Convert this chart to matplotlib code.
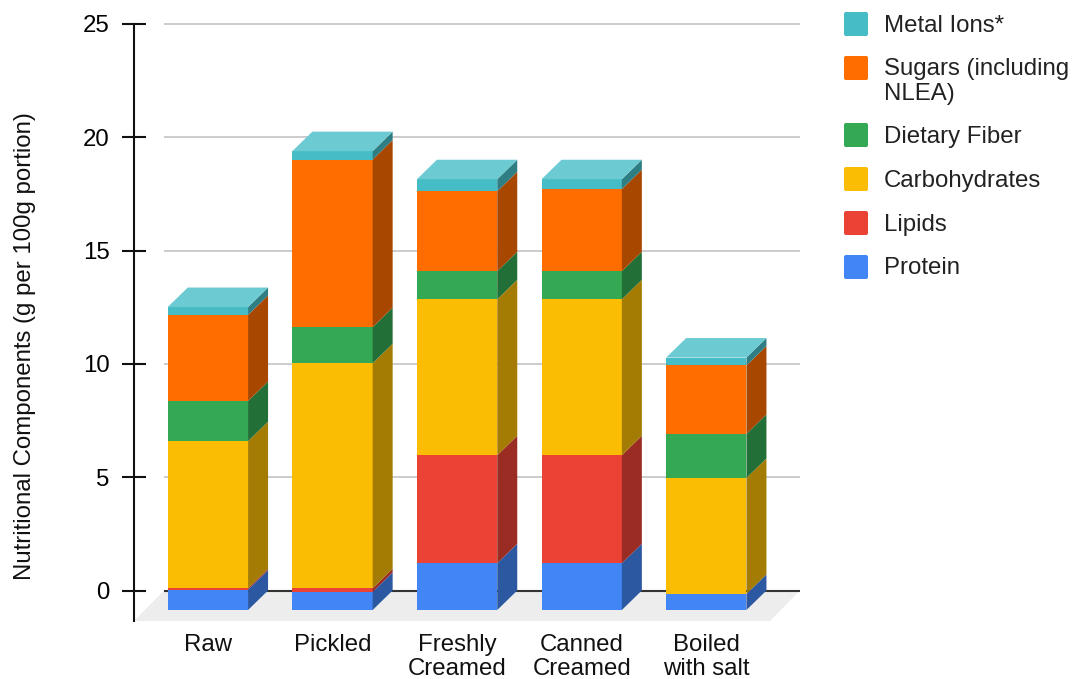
# Nutritional components chart, stacked bars with a fake 3D look
import numpy as np
import matplotlib
matplotlib.use('Agg')
import matplotlib.pyplot as plt
from matplotlib.patches import FancyBboxPatch

plt.rcParams['font.family'] = ['Liberation Sans', 'DejaVu Sans']

# ── Data ─────────────────────────────────────────────────────
categories = ['Raw', 'Pickled', 'Freshly\nCreamed', 'Canned\nCreamed', 'Boiled\nwith salt']
protein = [0.90, 0.80, 2.06, 2.06, 0.71]
lipids  = [0.06, 0.16, 4.77, 4.77, 0.00]
carbs   = [6.49, 9.93, 6.88, 6.88, 5.12]
fiber   = [1.77, 1.59, 1.24, 1.24, 1.94]
sugars  = [3.80, 7.40, 3.53, 3.62, 3.02]
metals  = [0.35, 0.37, 0.53, 0.44, 0.35]
y_ticks = [0, 5, 10, 15, 20, 25]

series = [protein, lipids, carbs, fiber, sugars, metals]
legend_labels = ['Metal Ions*', 'Sugars (including\nNLEA)', 'Dietary Fiber',
                 'Carbohydrates', 'Lipids', 'Protein']

# front colour, side colour, same order as series
front_cols = ['#4285F4', '#EA4335', '#FBBC04', '#34A853', '#FF6D01', '#46BDC6']
side_cols  = ['#2C58A1', '#9A2C23', '#A57C03', '#226F37', '#A84800', '#2F7E84']
top_col = '#6BCAD2'

# ── Layout in pixels ─────────────────────────────────────────
W, H = 1073, 679
AX_LEFT, AX_RIGHT, AX_TOP, AX_BOTTOM = 134, 800, 24, 621
ZERO_PX = 590.5
PX_PER_UNIT = (ZERO_PX - AX_TOP) / 25
PX_PER_CAT = 124.6
FIRST_CENTER = 207.9
FONT = 17.3

fig = plt.figure(figsize=(W / 100, H / 100), dpi=100)
ax = fig.add_axes([AX_LEFT / W, 1 - AX_BOTTOM / H,
                   (AX_RIGHT - AX_LEFT) / W, (AX_BOTTOM - AX_TOP) / H])
ax.set_xlim((AX_LEFT - FIRST_CENTER) / PX_PER_CAT, (AX_RIGHT - FIRST_CENTER) / PX_PER_CAT)
ax.set_ylim((ZERO_PX - AX_BOTTOM) / PX_PER_UNIT, 25)

# depth of the bars, converted to data units
dx = 20 / PX_PER_CAT
dy = 19.5 / PX_PER_UNIT
bar_w = 80.3 / PX_PER_CAT
x = np.arange(len(categories))

# ── Floor and gridlines ──────────────────────────────────────
floor_x = 30 / PX_PER_CAT
x0, x1 = ax.get_xlim()
y0 = ax.get_ylim()[0]
ax.fill([x0, x1 - floor_x, x1, x0 + floor_x], [y0, y0, 0, 0],
        color='#EDEDED', lw=0, zorder=1)
ax.hlines(y_ticks[1:], x0 + floor_x, x1, color='#CCCCCC', lw=1.4, zorder=1, clip_on=False)
ax.hlines(0, x0 + floor_x, x1, color='#333333', lw=1.5, zorder=2)

# ── Stacked bars: front face, then the side and top faces ────
bottom = np.zeros(len(categories))
for vals, col, side in zip(series, front_cols, side_cols):
    vals = np.array(vals)
    ax.bar(x, vals, bar_w, bottom=bottom - dy, color=col, lw=0, zorder=3)
    for xi, b, v in zip(x + bar_w / 2, bottom, vals):
        ax.fill([xi, xi + dx, xi + dx, xi],
                [b - dy, b, b + v, b + v - dy],
                color=side, lw=0, zorder=3)
    bottom = bottom + vals

for xi, t in zip(x, bottom):
    ax.fill([xi - bar_w / 2, xi + bar_w / 2, xi + bar_w / 2 + dx, xi - bar_w / 2 + dx],
            [t - dy, t - dy, t, t], color=top_col, lw=0, zorder=3)

# ── Axes ─────────────────────────────────────────────────────
for s in ['top', 'right', 'bottom']:
    ax.spines[s].set_visible(False)
ax.spines['left'].set_linewidth(1.5)
ax.spines['left'].set_color('#111111')
ax.set_yticks(y_ticks)
ax.tick_params(axis='y', direction='inout', length=17.3, width=1.5, color='#111111',
               labelsize=FONT, labelcolor='black', pad=9)
ax.set_xticks(x)
ax.set_xticklabels(categories, fontsize=FONT, color='#111111', linespacing=1.1)
ax.tick_params(axis='x', length=0, pad=9.5)
ax.patch.set_alpha(0)

fig.text(25 / W, 1 - 346 / H, 'Nutritional Components (g per 100g portion)',
         rotation=90, ha='center', va='center', fontsize=FONT, color='#111111')

# ── Legend, drawn by hand because of the two line entry ──────
lax = fig.add_axes([0, 0, 1, 1], zorder=-1)
lax.set_xlim(0, W)
lax.set_ylim(H, 0)
lax.axis('off')
legend_y = [24, 68, 135, 179, 223, 267]
for label, col, ly in zip(legend_labels, front_cols[::-1], legend_y):
    lax.add_patch(FancyBboxPatch((846, ly - 10), 20, 20, boxstyle='round,pad=2,rounding_size=2',
                                 fc=col, ec='none'))
    lax.text(884, ly - 9.5, label, fontsize=FONT, color='#222222', ha='left', va='top',
             linespacing=1.13)

fig.savefig('out.png', dpi=100)
